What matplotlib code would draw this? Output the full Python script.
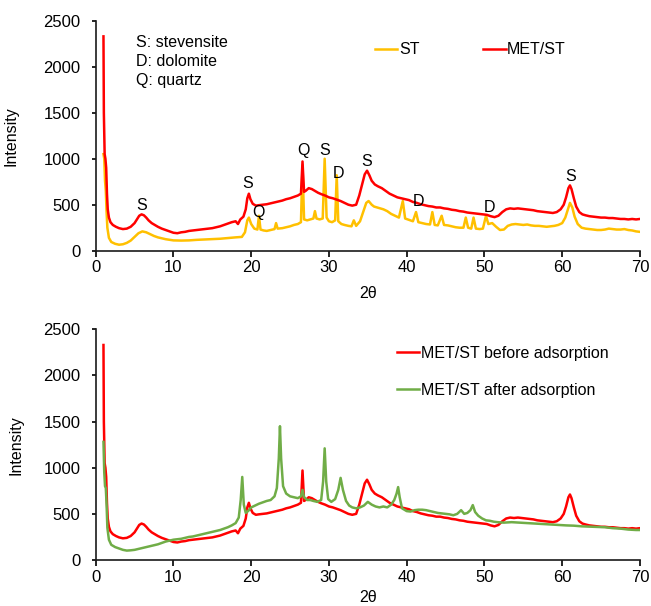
import numpy as np
import matplotlib
matplotlib.use('Agg')
import matplotlib.pyplot as plt

plt.rcParams['font.family'] = ['Liberation Sans', 'DejaVu Sans']

# MET/ST pattern (same scan in both panels)
red_x = [1.0, 1.05, 1.15, 1.25, 1.35, 1.45, 1.55, 1.7, 1.9, 2.2,
         2.6, 3.0, 3.5, 4.0, 4.5, 5.0, 5.3, 5.6, 5.9, 6.2,
         6.5, 6.8, 7.2, 7.6, 8.0, 8.5, 9.0, 9.5, 10.0, 10.5,
         11.0, 11.5, 12.0, 12.5, 13.0, 13.5, 14.0, 14.5, 15.0, 15.5,
         16.0, 16.5, 17.0, 17.5, 18.0, 18.3, 18.6, 19.0, 19.3, 19.5,
         19.7, 19.9, 20.2, 20.6, 21.0, 21.5, 22.0, 22.5, 23.0, 23.5,
         24.0, 24.5, 25.0, 25.5, 26.0, 26.4, 26.6, 26.8, 27.0, 27.4,
         27.8, 28.2, 28.6, 29.0, 29.5, 30.0, 30.5, 31.0, 31.5, 32.0,
         32.5, 33.0, 33.5, 33.9, 34.3, 34.6, 34.9, 35.2, 35.5, 35.9,
         36.3, 36.8, 37.3, 37.8, 38.3, 38.8, 39.3, 39.8, 40.3, 40.8,
         41.3, 41.8, 42.3, 42.8, 43.3, 43.8, 44.3, 44.8, 45.3, 45.8,
         46.3, 46.8, 47.3, 47.8, 48.3, 48.8, 49.3, 49.8, 50.3, 50.8,
         51.3, 51.8, 52.3, 52.8, 53.3, 53.8, 54.3, 54.8, 55.3, 55.8,
         56.3, 56.8, 57.3, 57.8, 58.3, 58.8, 59.3, 59.8, 60.2, 60.5,
         60.8, 61.0, 61.2, 61.5, 61.8, 62.2, 62.6, 63.0, 63.5, 64.0,
         64.5, 65.0, 65.5, 66.0, 66.5, 67.0, 67.5, 68.0, 68.5, 69.0,
         69.5, 70.0]
red_y = [2330, 1500, 1050, 1000, 900, 620, 450, 360, 310, 280,
         260, 245, 235, 240, 260, 300, 340, 380, 395, 385,
         360, 330, 300, 280, 260, 240, 225, 210, 195, 190,
         200, 205, 215, 220, 225, 230, 235, 240, 245, 255,
         265, 280, 295, 310, 320, 290, 340, 370, 450, 570,
         620, 560, 510, 490, 495, 500, 505, 515, 525, 535,
         545, 560, 570, 585, 600, 620, 970, 640, 650, 680,
         670, 650, 630, 615, 600, 580, 570, 555, 540, 520,
         500, 490, 500, 600, 730, 830, 870, 820, 760, 720,
         700, 680, 650, 620, 600, 580, 570, 560, 550, 530,
         520, 505, 495, 485, 480, 470, 470, 460, 455, 445,
         440, 430, 425, 415, 410, 405, 400, 395, 390, 375,
         365, 380, 420, 450, 460, 455, 460, 455, 450, 445,
         440, 430, 425, 420, 415, 410, 420, 450, 500, 580,
         680, 710, 670, 570, 480, 420, 395, 385, 375, 370,
         365, 360, 360, 355, 355, 350, 345, 345, 340, 345,
         340, 345]

# ST pattern
st_x = [1.0, 1.1, 1.2, 1.3, 1.4, 1.5, 1.7, 2.0, 2.5, 3.0,
        3.5, 4.0, 4.5, 5.0, 5.5, 6.0, 6.5, 7.0, 7.5, 8.0,
        8.5, 9.0, 9.5, 10.0, 11.0, 12.0, 13.0, 14.0, 15.0, 16.0,
        17.0, 18.0, 18.8, 19.2, 19.5, 19.7, 20.0, 20.4, 20.8, 21.0,
        21.2, 21.6, 22.0, 22.5, 23.0, 23.2, 23.4, 24.0, 24.5, 25.0,
        25.5, 26.0, 26.4, 26.6, 26.8, 27.2, 27.6, 28.0, 28.2, 28.4,
        28.8, 29.2, 29.45, 29.7, 30.0, 30.4, 30.8, 31.0, 31.2, 31.6,
        32.0, 32.5, 32.9, 33.2, 33.5, 34.0, 34.4, 34.8, 35.1, 35.5,
        35.8, 36.2, 36.6, 37.0, 37.5, 38.0, 38.5, 39.0, 39.5, 39.8,
        40.3, 40.8, 41.2, 41.5, 42.0, 42.5, 43.0, 43.3, 43.6, 44.0,
        44.5, 44.8, 45.3, 45.8, 46.3, 46.8, 47.3, 47.6, 47.9, 48.3,
        48.6, 48.9, 49.4, 49.8, 50.2, 50.5, 51.0, 51.5, 52.0, 52.5,
        53.0, 53.5, 54.0, 54.5, 55.0, 55.5, 56.0, 56.5, 57.0, 57.5,
        58.0, 58.5, 59.0, 59.5, 60.0, 60.4, 60.7, 61.0, 61.3, 61.6,
        62.0, 62.5, 63.0, 63.5, 64.0, 64.5, 65.0, 65.5, 66.0, 66.5,
        67.0, 67.5, 68.0, 68.5, 69.0, 69.5, 70.0]
st_y = [1050, 1000, 760, 650, 420, 250, 140, 95, 75, 65,
        70, 85, 110, 150, 190, 210, 200, 180, 160, 145,
        135, 125, 118, 112, 110, 112, 118, 122, 125, 130,
        138, 145, 150, 200, 330, 360, 290, 240, 230, 380,
        230, 220, 215, 225, 235, 300, 240, 245, 255, 265,
        280, 290, 310, 930, 340, 330, 340, 350, 430, 350,
        340, 350, 1000, 360, 320, 310, 330, 820, 320, 290,
        280, 270, 265, 330, 270, 320, 420, 520, 540, 500,
        480, 470, 460, 450, 430, 400, 380, 360, 540, 350,
        335, 320, 420, 310, 300, 290, 285, 420, 280, 275,
        380, 280, 275, 265, 255, 250, 250, 360, 250, 240,
        360, 240, 235, 240, 380, 290, 300, 260, 225, 230,
        270, 285, 290, 285, 280, 285, 275, 270, 270, 265,
        260, 265, 270, 280, 300, 360, 440, 520, 470, 370,
        290, 250, 240, 235, 230, 225, 225, 230, 240, 235,
        230, 230, 235, 225, 220, 210, 205]

# MET/ST after adsorption
grn_x = [1.0, 1.1, 1.2, 1.3, 1.4, 1.5, 1.7, 2.0, 2.5, 3.0,
         3.5, 4.0, 4.5, 5.0, 5.5, 6.0, 6.5, 7.0, 7.5, 8.0,
         8.5, 9.0, 9.5, 10.0, 10.5, 11.0, 11.5, 12.0, 12.5, 13.0,
         13.5, 14.0, 14.5, 15.0, 15.5, 16.0, 16.5, 17.0, 17.5, 18.0,
         18.4, 18.65, 18.85, 19.05, 19.3, 19.6, 20.0, 20.5, 21.0, 21.5,
         22.0, 22.5, 23.0, 23.3, 23.55, 23.7, 23.85, 24.1, 24.5, 25.0,
         25.5, 26.0, 26.4, 26.6, 26.8, 27.2, 27.6, 28.0, 28.5, 29.0,
         29.25, 29.45, 29.65, 29.9, 30.3, 30.8, 31.2, 31.5, 31.8, 32.2,
         32.6, 33.0, 33.5, 34.0, 34.5, 35.0, 35.5, 36.0, 36.5, 37.0,
         37.5, 38.0, 38.4, 38.7, 38.9, 39.1, 39.4, 40.0, 40.5, 41.0,
         41.5, 42.0, 42.5, 43.0, 43.5, 44.0, 44.5, 45.0, 45.5, 46.0,
         46.5, 47.0, 47.4, 47.8, 48.2, 48.5, 48.8, 49.2, 49.7, 50.2,
         50.7, 51.2, 51.7, 52.5, 53.5, 54.5, 55.5, 56.5, 57.5, 58.5,
         59.5, 60.5, 61.5, 62.5, 63.5, 64.5, 65.5, 66.5, 67.5, 68.5,
         69.5, 70.0]
grn_y = [1280, 950, 800, 780, 600, 350, 220, 165, 140, 125,
         110, 102, 105, 110, 120, 130, 140, 150, 160, 170,
         185, 200, 210, 220, 225, 230, 240, 250, 255, 265,
         275, 285, 295, 305, 315, 325, 340, 355, 375, 400,
         460, 650, 900, 600, 510, 530, 570, 590, 610, 625,
         640, 650, 690, 780, 1100, 1450, 1100, 800, 720, 690,
         680, 670, 690, 760, 680, 650, 650, 640, 630, 650,
         850, 1210, 850, 660, 630, 660, 760, 890, 760, 640,
         590, 570, 560, 570, 590, 630, 600, 580, 570, 580,
         570, 600, 650, 720, 790, 680, 560, 530, 525, 540,
         545, 545, 540, 530, 520, 510, 505, 500, 495, 485,
         500, 540, 500, 510, 540, 595, 520, 480, 450, 430,
         425, 415, 410, 405, 410, 405, 400, 395, 390, 385,
         380, 375, 372, 365, 362, 360, 355, 345, 340, 330,
         325, 325]

assert len(red_x) == len(red_y)
assert len(st_x) == len(st_y)
assert len(grn_x) == len(grn_y)

# phase markers on the top panel
peak_text = ['S', 'S', 'Q', 'Q', 'S', 'D', 'S', 'D', 'D', 'S']
peak_x = [5.9, 19.5, 20.9, 26.7, 29.5, 31.2, 34.8, 41.5, 50.6, 61.05]
peak_y = [486, 733, 417, 1087, 1087, 841, 975, 540, 467, 805]

key_lines = ['S: stevensite', 'D: dolomite', 'Q: quartz']

RED = '#FF0000'
ORANGE = '#FFC000'
GREEN = '#70AD47'
FS = 11.5

fig = plt.figure(figsize=(6.51, 6.06), dpi=100)
ax1 = fig.add_axes([0.147, 0.5863, 0.836, 0.3795])
ax2 = fig.add_axes([0.147, 0.0759, 0.836, 0.3807])

ax1.plot(st_x, st_y, color=ORANGE, lw=1.8, label='ST')
ax1.plot(red_x, red_y, color=RED, lw=1.8, label='MET/ST')
for t, x, y in zip(peak_text, peak_x, peak_y):
    ax1.text(x, y, t, ha='center', va='center', fontsize=FS)
for i, t in enumerate(key_lines):
    ax1.text(0.074, 0.905 - i * 0.083, t, transform=ax1.transAxes,
             ha='left', va='center', fontsize=FS)
ax1.legend(ncol=2, frameon=False, loc='center left', bbox_to_anchor=(0.513, 0.873),
           borderpad=0, borderaxespad=0, handlelength=1.4, handletextpad=0.1,
           columnspacing=4.0, fontsize=FS)

ax2.plot(red_x, red_y, color=RED, lw=1.8, label='MET/ST before adsorption')
ax2.plot(grn_x, grn_y, color=GREEN, lw=1.8, label='MET/ST after adsorption')
ax2.legend(frameon=False, loc='center left', bbox_to_anchor=(0.553, 0.816),
           borderpad=0, borderaxespad=0, handlelength=1.4, handletextpad=0.1,
           labelspacing=1.4, fontsize=FS)

for ax, ly in ((ax1, -0.153), (ax2, -0.128)):
    ax.set_xlim(0, 70)
    ax.set_ylim(0, 2500)
    ax.set_xticks(np.arange(0, 71, 10))
    ax.set_yticks(np.arange(0, 2501, 500))
    for s in ('top', 'right'):
        ax.spines[s].set_visible(False)
    for s in ('left', 'bottom'):
        ax.spines[s].set_linewidth(1.2)
        ax.spines[s].set_color('#1a1a1a')
    ax.tick_params(axis='x', direction='out', length=4, width=1.2, pad=3, labelsize=12)
    ax.tick_params(axis='y', direction='out', length=3, width=1.2, pad=8, labelsize=12)
    ax.set_xlabel('2θ', fontsize=FS, va='top')
    ax.xaxis.set_label_coords(0.5, ly)
    ax.set_ylabel('Intensity', fontsize=FS)

ax1.yaxis.set_label_coords(-0.141, 0.5)
ax2.yaxis.set_label_coords(-0.132, 0.5)

fig.savefig('out.png', dpi=100)
